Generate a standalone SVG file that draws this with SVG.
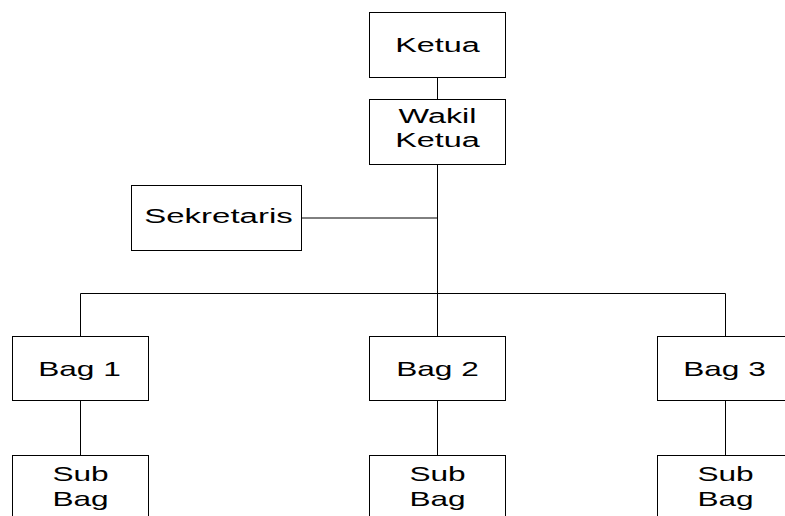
<svg xmlns="http://www.w3.org/2000/svg" width="785" height="516" viewBox="0 0 785 516">
<style>
.box{fill:#fff;stroke:#000;stroke-width:1}
.ln{stroke:#000;stroke-width:1;fill:none}
.t{font-family:"Liberation Sans",Arial,sans-serif;font-size:20px;fill:#000;text-anchor:middle}
</style>
<rect width="785" height="516" fill="#fff"/>
<g id="connectors">
<line class="ln" x1="437.5" y1="77.5" x2="437.5" y2="99.5"/>
<line class="ln" x1="437.5" y1="164.5" x2="437.5" y2="336.5"/>
<line class="ln" x1="301.5" y1="218" x2="437.5" y2="218"/>
<line class="ln" x1="80.5" y1="293.5" x2="725.5" y2="293.5"/>
<line class="ln" x1="80.5" y1="293.5" x2="80.5" y2="336.5"/>
<line class="ln" x1="725.5" y1="293.5" x2="725.5" y2="336.5"/>
<line class="ln" x1="80.5" y1="400.5" x2="80.5" y2="455.5"/>
<line class="ln" x1="437.5" y1="400.5" x2="437.5" y2="455.5"/>
<line class="ln" x1="725.5" y1="400.5" x2="725.5" y2="455.5"/>
</g>
<g id="ketua">
<rect class="box" x="369.5" y="12.5" width="136" height="65"/>
<text class="t" transform="translate(437.5,51.7) scale(1.62,1)">Ketua</text>
</g>
<g id="wakil">
<rect class="box" x="369.5" y="99.5" width="136" height="65"/>
<text class="t" transform="translate(437.5,123.3) scale(1.62,1)">Wakil</text>
<text class="t" transform="translate(437.5,146.7) scale(1.62,1)">Ketua</text>
</g>
<g id="sekretaris">
<rect class="box" x="131.5" y="185.5" width="170" height="65"/>
<text class="t" transform="translate(218.5,223.3) scale(1.65,1)">Sekretaris</text>
</g>
<g id="bag1">
<rect class="box" x="12.5" y="336.5" width="136" height="64"/>
<text class="t" transform="translate(79.5,376) scale(1.58,1)">Bag 1</text>
</g>
<g id="bag2">
<rect class="box" x="369.5" y="336.5" width="136" height="64"/>
<text class="t" transform="translate(437.5,376) scale(1.58,1)">Bag 2</text>
</g>
<g id="bag3">
<rect class="box" x="657.5" y="336.5" width="136" height="64"/>
<text class="t" transform="translate(724.5,376) scale(1.58,1)">Bag 3</text>
</g>
<g id="sub1">
<rect class="box" x="12.5" y="455.5" width="136" height="70"/>
<text class="t" transform="translate(80.5,481) scale(1.58,1)">Sub</text>
<text class="t" transform="translate(80.5,505.5) scale(1.58,1)">Bag</text>
</g>
<g id="sub2">
<rect class="box" x="369.5" y="455.5" width="136" height="70"/>
<text class="t" transform="translate(437.5,481) scale(1.58,1)">Sub</text>
<text class="t" transform="translate(437.5,505.5) scale(1.58,1)">Bag</text>
</g>
<g id="sub3">
<rect class="box" x="657.5" y="455.5" width="136" height="70"/>
<text class="t" transform="translate(725.5,481) scale(1.58,1)">Sub</text>
<text class="t" transform="translate(725.5,505.5) scale(1.58,1)">Bag</text>
</g>
</svg>
